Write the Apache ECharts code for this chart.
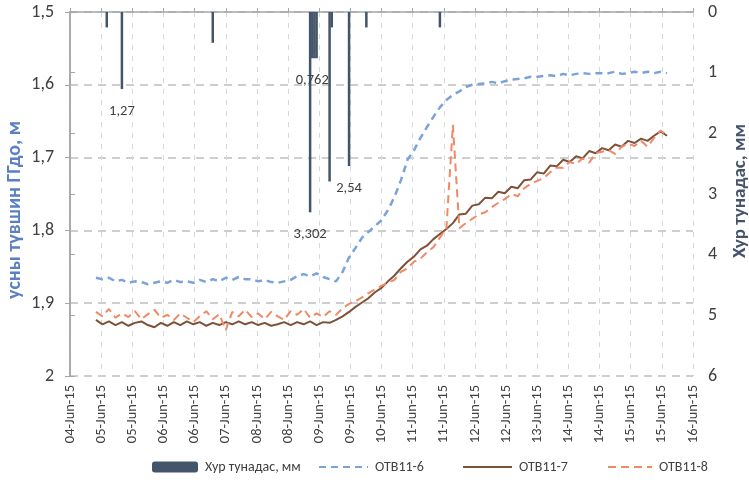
<!DOCTYPE html>
<html>
<head>
<meta charset="utf-8">
<script src="https://cdn.jsdelivr.net/npm/echarts@6/dist/echarts.min.js"></script>
<style>
  html, body { margin: 0; padding: 0; background: #fff; }
  #chart { width: 749px; height: 496px; }
</style>
</head>
<body>
<div id="chart"></div>
<script>
// Tick labels of the date axis: one tick every 14.4 h, starting 04-Jun-15 12:00
const xTickLabels = ['04-Jun-15','05-Jun-15','05-Jun-15','06-Jun-15','06-Jun-15','07-Jun-15',
  '08-Jun-15','08-Jun-15','09-Jun-15','09-Jun-15','10-Jun-15','11-Jun-15','11-Jun-15',
  '12-Jun-15','12-Jun-15','13-Jun-15','14-Jun-15','14-Jun-15','15-Jun-15','15-Jun-15','16-Jun-15'];
const axisStart = '2015-06-04 12:00';

// Water level readings (m below ground), every 3 hours from 05-Jun-15 00:00
const levelStart = '2015-06-05 00:00';
const levelStepHours = 3;

const otb6 = [
  1.865,1.867,1.865,1.870,1.868,1.872,1.870,1.871,1.874,1.872,
  1.870,1.872,1.868,1.871,1.870,1.872,1.868,1.871,1.867,1.870,
  1.865,1.868,1.864,1.867,1.867,1.870,1.868,1.871,1.872,1.870,
  1.868,1.863,1.860,1.863,1.859,1.864,1.867,1.870,1.857,1.837,
  1.824,1.810,1.802,1.794,1.786,1.772,1.754,1.731,1.703,1.690,
  1.673,1.658,1.644,1.631,1.621,1.614,1.609,1.603,1.600,1.599,
  1.598,1.596,1.598,1.595,1.593,1.592,1.591,1.589,1.589,1.588,
  1.587,1.588,1.585,1.587,1.585,1.584,1.585,1.584,1.584,1.584,
  1.582,1.585,1.584,1.582,1.584,1.582,1.584,1.582,1.584
];

const otb7 = [
  1.923,1.929,1.925,1.930,1.926,1.931,1.927,1.925,1.930,1.933,
  1.927,1.931,1.926,1.930,1.925,1.929,1.926,1.931,1.927,1.930,
  1.926,1.929,1.925,1.929,1.926,1.930,1.927,1.931,1.929,1.926,
  1.930,1.926,1.929,1.925,1.930,1.926,1.927,1.923,1.918,1.912,
  1.905,1.899,1.893,1.885,1.879,1.870,1.862,1.852,1.843,1.836,
  1.826,1.821,1.812,1.805,1.798,1.790,1.778,1.777,1.766,1.764,
  1.755,1.756,1.747,1.749,1.740,1.742,1.731,1.730,1.720,1.722,
  1.711,1.712,1.703,1.706,1.698,1.701,1.691,1.694,1.687,1.690,
  1.682,1.685,1.677,1.680,1.674,1.677,1.670,1.664,1.670
];

const otb8 = [
  1.912,1.918,1.908,1.920,1.914,1.919,1.911,1.922,1.915,1.909,
  1.920,1.916,1.923,1.914,1.920,1.926,1.918,1.911,1.922,1.915,
  1.937,1.912,1.918,1.909,1.919,1.914,1.922,1.912,1.918,1.923,
  1.911,1.916,1.908,1.920,1.914,1.919,1.911,1.916,1.907,1.901,
  1.897,1.892,1.886,1.881,1.876,1.872,1.868,1.857,1.852,1.843,
  1.839,1.830,1.823,1.810,1.797,1.655,1.797,1.790,1.784,1.778,
  1.775,1.768,1.762,1.757,1.750,1.753,1.742,1.736,1.732,1.728,
  1.720,1.714,1.714,1.706,1.709,1.701,1.707,1.694,1.692,1.690,
  1.695,1.685,1.681,1.684,1.677,1.685,1.673,1.663,1.669
];

// Hourly precipitation, mm
const rainTimes = ['2015-06-05 05:00','2015-06-05 12:00','2015-06-07 06:00',
  '2015-06-09 03:00','2015-06-09 04:00','2015-06-09 05:00','2015-06-09 06:00',
  '2015-06-09 12:00','2015-06-09 13:00','2015-06-09 21:00','2015-06-10 05:00','2015-06-11 15:00'];
const rainValues = [0.254, 1.27, 0.508, 3.302, 0.762, 0.762, 0.762, 2.794, 0.254, 2.54, 0.254, 0.254];
const rainLabelled = [false, true, false, true, true, false, false, false, false, true, false, false];

const seriesNames = ['Хур тунадас, мм', 'ОТВ11-6', 'ОТВ11-7', 'ОТВ11-8'];
const levelAxisTitle = 'усны түвшин ГГдо, м';
const rainAxisTitle = 'Хур тунадас, мм';

function parseStamp(s) {
  const [d, t] = s.split(' ');
  const [Y, M, D] = d.split('-').map(Number);
  const [h, m] = t.split(':').map(Number);
  return Date.UTC(Y, M - 1, D, h, m);
}
const t0 = parseStamp(axisStart);
const hoursFromStart = s => (parseStamp(s) - t0) / 3600000;
const levelOffset = hoursFromStart(levelStart);
const toPoints = arr => arr.map((v, i) => [levelOffset + i * levelStepHours, v]);

const tickStep = 14.4;
const axisSpan = tickStep * (xTickLabels.length - 1);
const comma = v => String(v).replace('.', ',');

const FONT = "Carlito, 'Open Sans', 'Liberation Sans', sans-serif";
const TEXT = '#404040';
const AXIS = '#a6a6a6';

const chart = echarts.init(document.getElementById('chart'), null, { renderer: 'canvas' });

const legendBase = {
  top: 460,
  padding: 0,
  itemHeight: 11,
  textStyle: { color: TEXT, fontSize: 14, fontFamily: FONT, padding: [0, 0, 0, 2] },
  selectedMode: false
};
// line legends: show only the stroke, hide the marker
const lineLegend = { itemStyle: { opacity: 0 } };

chart.setOption({
  animation: false,
  backgroundColor: '#fff',
  textStyle: { fontFamily: FONT },
  grid: { left: 70, right: 56, top: 12, bottom: 120 },
  graphic: [
    {
      type: 'text', x: 15, y: 210, rotation: Math.PI / 2,
      style: {
        text: levelAxisTitle, fill: '#5a80c2', font: "bold 20px " + FONT,
        textAlign: 'center', textVerticalAlign: 'middle'
      }
    },
    {
      type: 'text', x: 740, y: 191, rotation: Math.PI / 2,
      style: {
        text: rainAxisTitle, fill: '#44546a', font: "bold 19px " + FONT,
        textAlign: 'center', textVerticalAlign: 'middle'
      }
    }
  ],
  legend: [
    Object.assign({}, legendBase, { left: 152, itemWidth: 46, data: [seriesNames[0]] }),
    Object.assign({}, legendBase, lineLegend, { left: 318, itemWidth: 49, data: [seriesNames[1]] }),
    Object.assign({}, legendBase, lineLegend, { left: 462, itemWidth: 49, data: [seriesNames[2]] }),
    Object.assign({}, legendBase, lineLegend, { left: 607, itemWidth: 44, data: [seriesNames[3]] })
  ],
  xAxis: [
    {
      type: 'value', position: 'bottom',
      min: 0, max: axisSpan, interval: tickStep,
      axisLine: { show: false },
      axisTick: { show: false },
      axisLabel: {
        rotate: 90, margin: 9, color: TEXT, fontSize: 14.5, fontFamily: FONT,
        formatter: v => xTickLabels[Math.round(v / tickStep)] || ''
      },
      splitLine: { show: true, lineStyle: { color: '#d3d9e2', width: 1, type: [5, 6] } }
    },
    {
      type: 'value', position: 'top',
      min: 0, max: axisSpan, interval: tickStep,
      axisLine: { show: true, lineStyle: { color: AXIS, width: 1.5 } },
      axisTick: { show: true, length: 4, lineStyle: { color: AXIS } },
      axisLabel: { show: false },
      splitLine: { show: false }
    }
  ],
  yAxis: [
    {
      type: 'value', inverse: true, min: 1.5, max: 2, interval: 0.1,
      axisLine: { show: true, lineStyle: { color: AXIS, width: 1.5 } },
      axisTick: { show: true, length: 5, lineStyle: { color: AXIS } },
      axisLabel: {
        color: TEXT, fontSize: 18, margin: 16, fontFamily: FONT,
        formatter: v => comma(+v.toFixed(1))
      },
      splitLine: { show: true, lineStyle: { color: '#bfbfbf', width: 1.5, type: [8, 6] } }
    },
    {
      type: 'value', inverse: true, min: 0, max: 6, interval: 1,
      axisLine: { show: true, lineStyle: { color: AXIS, width: 1.5 } },
      axisTick: { show: true, length: 5, lineStyle: { color: AXIS } },
      axisLabel: { color: TEXT, fontSize: 18, margin: 15, fontFamily: FONT },
      splitLine: { show: false }
    }
  ],
  series: [
    {
      name: seriesNames[0], type: 'bar', xAxisIndex: 0, yAxisIndex: 1,
      barWidth: 2.5, itemStyle: { color: '#44546a' },
      label: {
        position: 'bottom', distance: 15, color: TEXT, fontSize: 14.5, fontFamily: FONT,
        formatter: p => comma(p.value[1])
      },
      data: rainTimes.map((t, i) => ({
        value: [hoursFromStart(t), rainValues[i]],
        label: { show: rainLabelled[i] }
      })),
      z: 1
    },
    {
      name: seriesNames[1], type: 'line', yAxisIndex: 0, showSymbol: false, symbol: 'none',
      lineStyle: { color: '#7ba3d8', width: 2.5, type: [7, 5] },
      itemStyle: { color: '#7ba3d8' },
      data: toPoints(otb6), z: 3
    },
    {
      name: seriesNames[2], type: 'line', yAxisIndex: 0, showSymbol: false, symbol: 'none',
      lineStyle: { color: '#7d5238', width: 2 },
      itemStyle: { color: '#7d5238' },
      data: toPoints(otb7), z: 3
    },
    {
      name: seriesNames[3], type: 'line', yAxisIndex: 0, showSymbol: false, symbol: 'none',
      lineStyle: { color: '#ef8a67', width: 2, type: [8, 5] },
      itemStyle: { color: '#ef8a67' },
      data: toPoints(otb8), z: 4
    }
  ]
});
</script>
</body>
</html>
